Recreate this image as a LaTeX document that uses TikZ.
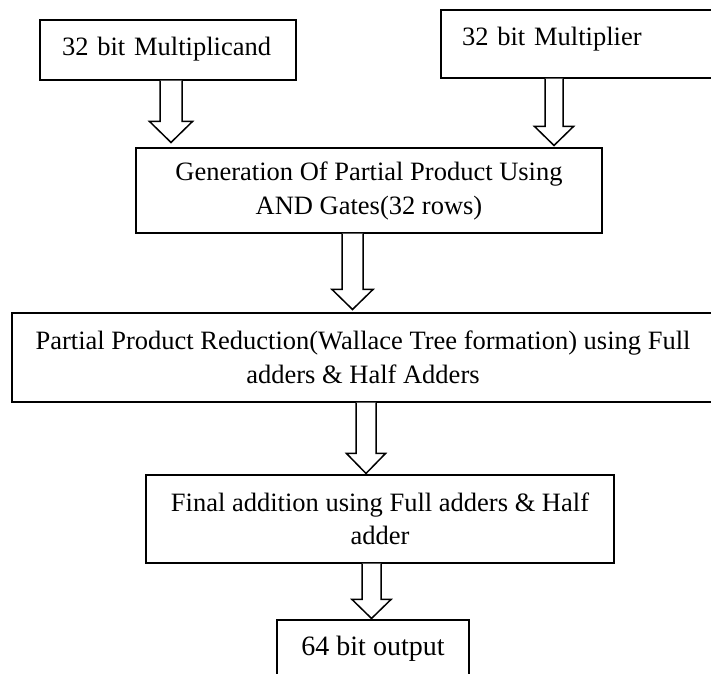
\documentclass[tikz,border=0pt]{standalone}
\usepackage{fontspec}
\setmainfont{Liberation Serif}
\usetikzlibrary{calc}
\tikzset{
  box/.style={draw=black, line width=1.1pt, rectangle, inner sep=0pt,
    font=\fontsize{26.5}{34}\selectfont, align=center},
  barrow/.style={draw=black, line width=1.5pt, line join=miter, fill=white}
}
% #1 x, #2 upper node, #3 lower node, #4 shaft half width, #5 head half width, #6 head length, #7 gap
\newcommand\blockarr[7]{%
  \coordinate (bax) at (#1,0);
  \draw[barrow] let \p1=(bax |- #2.south), \p2=(bax |- #3.north) in
    (\x1-#4pt,\y1) -- (\x1-#4pt,\y2+#7pt+#6pt) -- (\x1-#5pt,\y2+#7pt+#6pt) -- (\x1,\y2+#7pt)
    -- (\x1+#5pt,\y2+#7pt+#6pt) -- (\x1+#4pt,\y2+#7pt+#6pt) -- (\x1+#4pt,\y1);
}
\begin{document}
\begin{tikzpicture}[x=1pt,y=-1pt]
\useasboundingbox (0,0) rectangle (711,673);
\clip (0,0) rectangle (711,673);
\fill[white] (0,0) rectangle (711,673);

\node[box, minimum width=256pt, minimum height=60pt, text width=212pt, align=left,
      text height=18pt, text depth=8pt] (mcand) at (168,50) {32 bit Multiplicand};
\node[box, minimum width=279pt, minimum height=68pt, text width=237pt, align=left,
      text height=18pt, text depth=16pt] (mplier) at (580.5,44) {32 bit Multiplier};
\node[box, minimum width=466pt, minimum height=85pt] (gen) at (369,190.5)
  {Generation Of Partial Product Using\\AND Gates(32 rows)};
\node[box, minimum width=702pt, minimum height=89pt] (wal) at (363,357.5)
  {Partial Product Reduction(Wallace Tree formation) using Full\\adders \& Half Adders};
\node[box, minimum width=468pt, minimum height=88pt, font=\fontsize{26.5}{33}\selectfont] (fin) at (380,519)
  {Final addition using Full adders \& Half\\adder};
\node[box, minimum width=192pt, minimum height=70pt, font=\fontsize{28}{34}\selectfont,
      text height=18pt, text depth=18pt] (out) at (373,655) {64 bit output};

\blockarr{171}{mcand}{gen}{11}{21.5}{21}{5}
\blockarr{554}{mplier}{gen}{9}{19.5}{19}{2}
\blockarr{352.5}{gen}{wal}{10.5}{20.5}{20}{3}
\blockarr{366}{wal}{fin}{10}{19.5}{20}{1}
\blockarr{371.5}{fin}{out}{9.5}{19.5}{19}{1}
\end{tikzpicture}
\end{document}
